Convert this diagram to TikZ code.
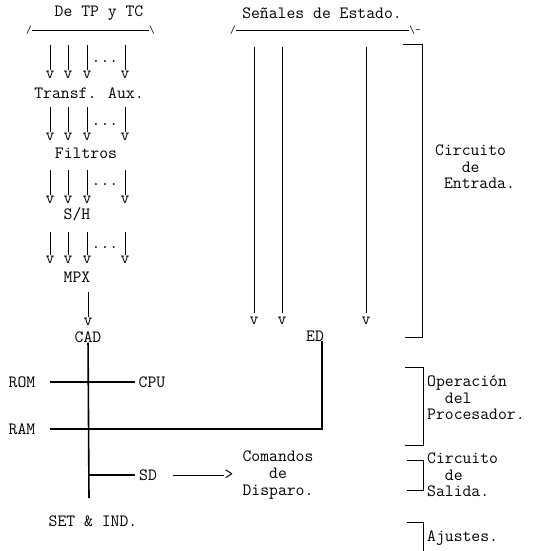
\documentclass[tikz,border=0pt]{standalone}
\usepackage{fontspec}
\usepackage{tikz}
\usetikzlibrary{arrows.meta,calc,positioning}
\newcommand{\diagtt}{\ttfamily\fontsize{17.2}{16.6}\selectfont}
\newcommand{\slashtt}{\ttfamily\fontsize{11}{11}\selectfont}
\begin{document}
\begin{tikzpicture}[x=1pt,y=-1pt,>=Latex,font=\diagtt]
\tikzstyle{lbl}=[inner sep=0pt,align=center]
\tikzstyle{vtip}=[inner sep=1pt]
\tikzstyle{note}=[inner sep=0pt,align=left,anchor=west]
\tikzstyle{slashmark}=[inner sep=0pt,font=\slashtt]
\tikzstyle{wire}=[line width=0.9pt]
\tikzstyle{bus}=[line width=1.6pt]
\useasboundingbox (0,0) rectangle (538,551);
% entradas analogicas
\node[lbl] (tptc) at (99,13) {De TP y TC};
\node[slashmark] (tpl) at (29,30) {/};
\node[slashmark] (tpr) at (152,30) {\textbackslash};
\draw[wire] (tpl) -- (tpr);
\foreach \k/\yt/\yv/\yd in {1/45/75/62,2/107/137/125,3/170/200/185,4/232/260/248} {
  \foreach \i/\x in {1/50,2/68,3/87,4/125} {
    \coordinate (top\k\i) at (\x,\yt);
    \node[vtip] (v\k\i) at (\x,\yv) {v};
    \draw[wire] (top\k\i) -- (v\k\i);
  }
  \node[lbl] (dots\k) at (105,\yd) {...};
}
\node[lbl] (aux) at (89,93) {Transf. Aux.};
\node[lbl] (fil) at (86,153) {Filtros};
\node[lbl] (sh) at (77,214) {S/H};
\node[lbl] (mpx) at (77,277) {MPX};
\coordinate (top5) at (88,292);
\node[vtip] (v5) at (88,322) {v};
\draw[wire] (top5) -- (v5);
\node[lbl] (cad) at (88,337) {CAD};
% entradas digitales
\node[lbl] (sen) at (322,13) {Señales de Estado.};
\node[slashmark] (sl) at (233,30) {/};
\node[slashmark] (sr) at (415,30) {\textbackslash-};
\draw[wire] (sl) -- (sr);
\foreach \i/\x in {1/254,2/282,3/366} {
  \coordinate (stop\i) at (\x,47);
  \node[vtip] (sv\i) at (\x,321) {v};
  \draw[wire,shorten >=3pt] (stop\i) -- (sv\i);
}
\node[lbl] (ed) at (315,336) {ED};
% procesador
\node[lbl] (rom) at (22,382) {ROM};
\node[lbl] (cpu) at (152,382) {CPU};
\node[lbl] (ram) at (22,429) {RAM};
\node[lbl] (sd) at (148,475) {SD};
\node[lbl] (gt) at (229,475) {>};
\node[lbl] (cmd) at (278,475) {Comandos\\de\\Disparo.};
\node[lbl] (set) at (93,521) {SET \& IND.};
\coordinate (busend) at (89,498);
\draw[bus] (cad) -- (busend);
\draw[bus,shorten <=15pt,shorten >=4pt] (rom) -- (cpu);
\draw[bus,shorten >=15pt] ([xshift=-2pt]ed.south east) |- (ram);
\draw[bus,shorten >=4pt] (cad |- sd) -- (sd);
\draw[wire,shorten <=16pt] (sd) -- (gt);
% llaves
\draw[wire] (403,44) -| (422,337) -- (405,337);
\draw[wire] (405,367) -| (423,445) -- (405,445);
\draw[wire] (407,460) -| (423,490) -- (407,490);
\draw[wire] (407,522) -| (423,551);
\node[note] (ent) at (435,167) {Circuito\\~~~de\\~Entrada.};
\node[note] (proc) at (427,398) {Operación\\~~del\\Procesador.};
\node[note] (sal) at (427,475) {Circuito\\~~de\\Salida.};
\node[note] (aju) at (427,538) {Ajustes.};
\end{tikzpicture}
\end{document}
